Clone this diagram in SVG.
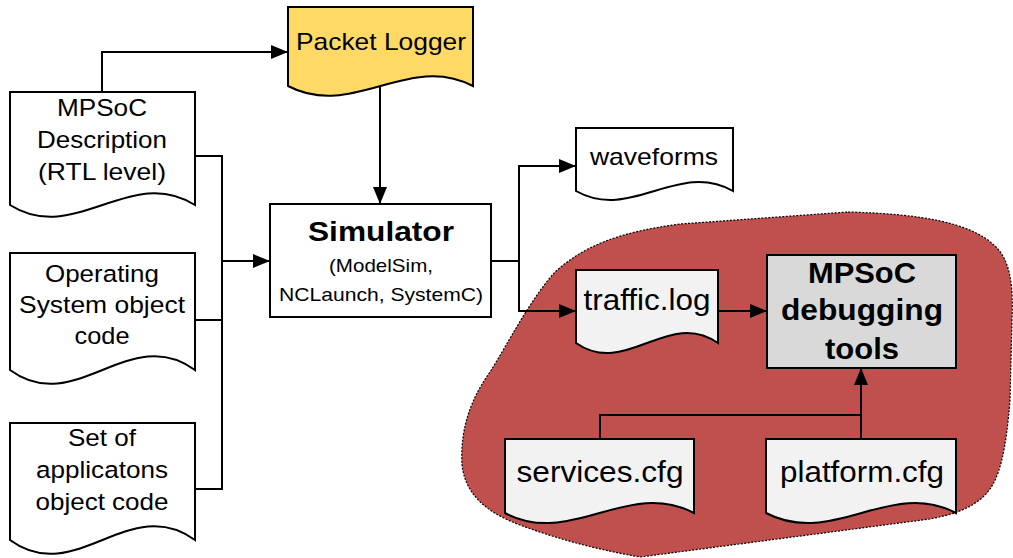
<svg xmlns="http://www.w3.org/2000/svg" width="1013" height="558" viewBox="0 0 1013 558">
  <defs>
    <marker id="arrow" markerUnits="userSpaceOnUse" markerWidth="18" markerHeight="14" refX="17" refY="7" orient="auto">
      <path d="M0,0 L17,7 L0,14 Z" fill="#000"/>
    </marker>
    <style>
      .doc { stroke: #000; stroke-width: 2; stroke-linejoin: miter; }
      .plain { fill: #fff; }
      .pale { fill: #f2f2f2; }
      .gold { fill: #ffd966; }
      .box { fill: #fff; stroke: #000; stroke-width: 2; }
      .grey { fill: #d9d9d9; stroke: #000; stroke-width: 2; }
      .wire { fill: none; stroke: #000; stroke-width: 2; }
      .t { font-family: "Liberation Sans", Arial, sans-serif; fill: #000; text-anchor: middle; }
      .b { font-weight: bold; }
    </style>
  </defs>

  <!-- debugging tools area -->
  <g id="debug-area">
    <path d="M848,212 C920,214 970,222 995,246 C1012,262 1013,290 1012,320 L1010,400 C1006,450 1000,480 985,495 C970,510 950,515 930,519 L640,557 C600,550 560,540 520,525 C480,510 465,490 462,465 C460,430 470,400 490,372 C510,340 530,300 555,272 C585,245 620,232 680,224 Z" fill="#c0504d" stroke="#000" stroke-width="1.2" stroke-dasharray="2 1.5"/>
  </g>

  <!-- connectors -->
  <g id="connectors">
    <path class="wire" d="M102,92 V52 H288" marker-end="url(#arrow)"/>
    <path class="wire" d="M380,86 V204" marker-end="url(#arrow)"/>
    <path class="wire" d="M195,156 H222 V489 H195"/>
    <path class="wire" d="M195,320 H222"/>
    <path class="wire" d="M222,261 H270" marker-end="url(#arrow)"/>
    <path class="wire" d="M491,261 H519"/>
    <path class="wire" d="M519,311 V166 H576" marker-end="url(#arrow)"/>
    <path class="wire" d="M519,261 V311 H576" marker-end="url(#arrow)"/>
    <path class="wire" d="M718,311 H767" marker-end="url(#arrow)"/>
    <path class="wire" d="M600,439 V415 H861"/>
    <path class="wire" d="M861,439 V368" marker-end="url(#arrow)"/>
  </g>

  <g id="packet-logger">
    <path class="doc gold" d="M288,7 H473 V86 C408,52 353,120 288,86 Z"/>
    <text class="t" x="381" y="50" font-size="24" textLength="170" lengthAdjust="spacingAndGlyphs">Packet Logger</text>
  </g>

  <g id="mpsoc-description">
    <path class="doc plain" d="M10,92 H195 V205 C130,164 75,246 10,205 Z"/>
    <text class="t" x="102" y="116" font-size="24.5" textLength="90" lengthAdjust="spacingAndGlyphs">MPSoC</text>
    <text class="t" x="102" y="148" font-size="24.5" textLength="130" lengthAdjust="spacingAndGlyphs">Description</text>
    <text class="t" x="102" y="180" font-size="24.5" textLength="128" lengthAdjust="spacingAndGlyphs">(RTL level)</text>
  </g>

  <g id="os-object-code">
    <path class="doc plain" d="M10,253 H195 V370 C130,322 75,418 10,370 Z"/>
    <text class="t" x="102" y="282" font-size="24.5" textLength="114" lengthAdjust="spacingAndGlyphs">Operating</text>
    <text class="t" x="102" y="313" font-size="24.5" textLength="166" lengthAdjust="spacingAndGlyphs">System object</text>
    <text class="t" x="102" y="344" font-size="24.5" textLength="55" lengthAdjust="spacingAndGlyphs">code</text>
  </g>

  <g id="apps-object-code">
    <path class="doc plain" d="M10,423 H195 V540 C130,492 75,588 10,540 Z"/>
    <text class="t" x="102" y="446" font-size="24.5" textLength="68" lengthAdjust="spacingAndGlyphs">Set of</text>
    <text class="t" x="102" y="478" font-size="24.5" textLength="132" lengthAdjust="spacingAndGlyphs">applicatons</text>
    <text class="t" x="102" y="510" font-size="24.5" textLength="133" lengthAdjust="spacingAndGlyphs">object code</text>
  </g>

  <g id="simulator">
    <rect class="box" x="270" y="204" width="221" height="113"/>
    <text class="t b" x="381" y="241" font-size="28" textLength="146" lengthAdjust="spacingAndGlyphs">Simulator</text>
    <text class="t" x="381" y="272" font-size="19" textLength="104" lengthAdjust="spacingAndGlyphs">(ModelSim,</text>
    <text class="t" x="381" y="301" font-size="19" textLength="204" lengthAdjust="spacingAndGlyphs">NCLaunch, SystemC)</text>
  </g>

  <g id="waveforms">
    <path class="doc plain" d="M576,128 H733 V191 C678,160 631,222 576,191 Z"/>
    <text class="t" x="654" y="165" font-size="24" textLength="128" lengthAdjust="spacingAndGlyphs">waveforms</text>
  </g>

  <g id="traffic-log">
    <path class="doc pale" d="M576,270 H718 V343 C668,308 626,378 576,343 Z"/>
    <text class="t" x="647" y="310" font-size="30" textLength="127" lengthAdjust="spacingAndGlyphs">traffic.log</text>
  </g>

  <g id="debugging-tools">
    <rect class="grey" x="767" y="255" width="189" height="113"/>
    <text class="t b" x="862" y="283" font-size="29" textLength="108" lengthAdjust="spacingAndGlyphs">MPSoC</text>
    <text class="t b" x="862" y="320" font-size="29" textLength="162" lengthAdjust="spacingAndGlyphs">debugging</text>
    <text class="t b" x="862" y="359" font-size="29" textLength="74" lengthAdjust="spacingAndGlyphs">tools</text>
  </g>

  <g id="services-cfg">
    <path class="doc pale" d="M505,439 H694 V513 C628,478 571,548 505,513 Z"/>
    <text class="t" x="600" y="482" font-size="30" textLength="167" lengthAdjust="spacingAndGlyphs">services.cfg</text>
  </g>

  <g id="platform-cfg">
    <path class="doc pale" d="M766,439 H956 V513 C890,478 833,548 766,513 Z"/>
    <text class="t" x="862" y="482" font-size="30" textLength="164" lengthAdjust="spacingAndGlyphs">platform.cfg</text>
  </g>
</svg>
